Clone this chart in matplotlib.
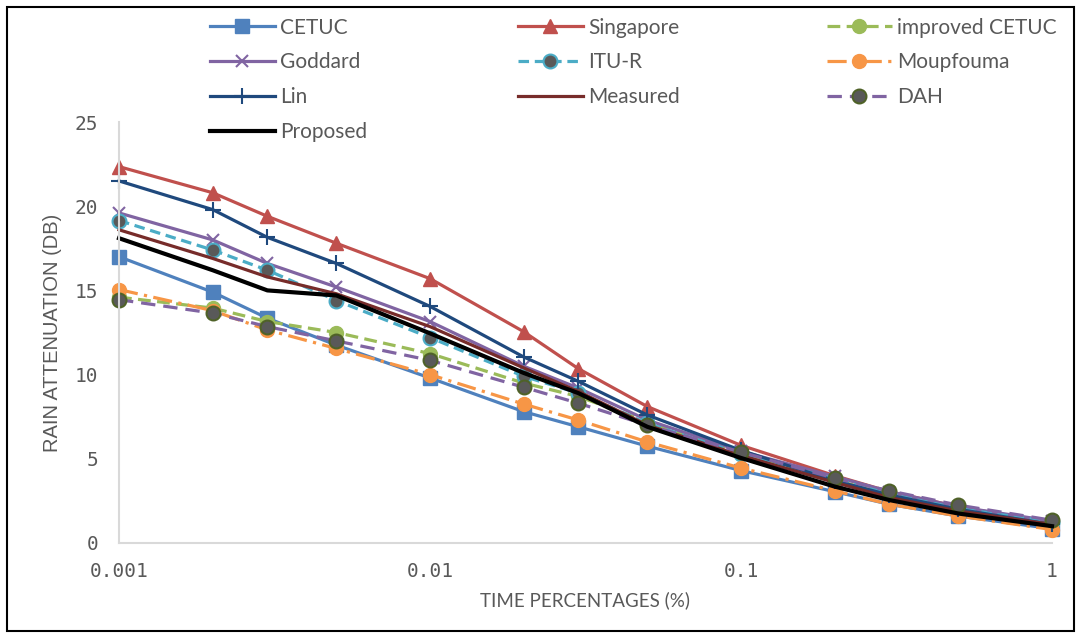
import matplotlib
matplotlib.use('Agg')
import matplotlib.pyplot as plt
from matplotlib.lines import Line2D
from matplotlib.patches import Rectangle
from matplotlib.ticker import NullLocator
from matplotlib.font_manager import FontProperties

# ---------------- data ----------------
time_pct = [0.001, 0.002, 0.003, 0.005, 0.01, 0.02, 0.03, 0.05, 0.1, 0.2, 0.3, 0.5, 1]
x_ticks = [0.001, 0.01, 0.1, 1]
x_tick_labels = ["0.001", "0.01", "0.1", "1"]
y_ticks = [0, 5, 10, 15, 20, 25]

cetuc = [17.0, 14.9, 13.35, 11.75, 9.8, 7.8, 6.9, 5.75, 4.3, 3.05, 2.3, 1.6, 0.85]
singapore = [22.35, 20.8, 19.4, 17.8, 15.7, 12.55, 10.35, 8.1, 5.8, 4.0, 3.05, 2.15, 1.2]
improved_cetuc = [14.6, 13.95, 13.15, 12.5, 11.25, 9.5, 8.7, 7.2, 5.3, 3.75, 2.85, 2.0, 1.2]
goddard = [19.6, 18.0, 16.6, 15.2, 13.15, 10.5, 9.2, 7.3, 5.45, 3.95, 3.05, 2.15, 1.3]
itu_r = [19.15, 17.4, 16.2, 14.4, 12.2, 9.9, 8.9, 7.1, 5.3, 3.8, 2.9, 2.05, 1.25]
moupfouma = [15.05, 13.8, 12.65, 11.55, 10.0, 8.25, 7.3, 6.0, 4.45, 3.1, 2.3, 1.6, 0.8]
lin = [21.5, 19.8, 18.15, 16.6, 14.05, 11.05, 9.6, 7.6, 5.5, 3.7, 2.85, 2.0, 1.1]
measured = [18.6, 16.9, 15.8, 14.8, 12.85, 10.4, 9.0, 7.0, 5.2, 3.6, 2.7, 1.9, 1.1]
dah = [14.45, 13.65, 12.85, 12.0, 10.85, 9.25, 8.3, 7.0, 5.4, 3.85, 3.1, 2.25, 1.35]
proposed = [18.1, 16.2, 15.0, 14.7, 12.45, 10.1, 8.9, 6.9, 5.05, 3.35, 2.55, 1.75, 1.0]

labels = ["CETUC", "Singapore", "improved CETUC", "Goddard", "ITU-R",
          "Moupfouma", "Lin", "Measured", "DAH", "Proposed"]
values = [cetuc, singapore, improved_cetuc, goddard, itu_r,
          moupfouma, lin, measured, dah, proposed]

# ---------------- styles ----------------
LW = 2.3
MS = 10
styles = [
    dict(color='#4F81BD', lw=LW, marker='s', ms=MS, mfc='#4F81BD', mec='#4F81BD'),
    dict(color='#C0504D', lw=LW, marker='^', ms=MS, mfc='#C0504D', mec='#C0504D'),
    dict(color='#9BBB59', lw=LW, dashes=(4, 2), marker='o', ms=MS, mfc='#9BBB59', mec='#9BBB59'),
    dict(color='#8064A2', lw=LW, marker='x', ms=9, mew=1.5, mec='#8064A2'),
    dict(color='#4BACC6', lw=LW, dashes=(3.3, 1.8), marker='o', ms=MS, mfc='#595959', mec='#4BACC6', mew=1.5),
    dict(color='#F79646', lw=LW, dashes=(6, 2, 1, 2), marker='o', ms=MS, mfc='#F79646', mec='#F79646'),
    dict(color='#1F497D', lw=LW, marker='+', ms=11, mew=1.5, mec='#1F497D'),
    dict(color='#772C2A', lw=LW),
    dict(color='#8064A2', lw=LW, dashes=(4.5, 2.5), marker='o', ms=MS, mfc='#595959', mec='#4F6228', mew=1.5),
    dict(color='#000000', lw=3.0),
]

fig = plt.figure(figsize=(10.81, 6.38), dpi=100)
W, H = 1081, 638
ax = fig.add_axes([119 / W, 1 - 543 / H, 933 / W, 421 / H])

for vals, lab, st in zip(values, labels, styles):
    ax.plot(time_pct, vals, label=lab, clip_on=False, **st)

ax.set_xscale('log')
ax.set_xlim(0.001, 1)
ax.set_ylim(0, 25)
ax.set_xticks(x_ticks)
ax.set_xticklabels(x_tick_labels)
ax.xaxis.set_minor_locator(NullLocator())
ax.set_yticks(y_ticks)

tick_font = FontProperties(family='DejaVu Sans Mono', size=14)
for t in ax.get_xticklabels() + ax.get_yticklabels():
    t.set_fontproperties(tick_font)
    t.set_color('#595959')
ax.tick_params(axis='both', length=0)
ax.tick_params(axis='x', pad=14)
ax.tick_params(axis='y', pad=15)

for s in ['top', 'right']:
    ax.spines[s].set_visible(False)
for s in ['left', 'bottom']:
    ax.spines[s].set_color('#D9D9D9')
    ax.spines[s].set_linewidth(1.5)

ax.set_xlabel('TIME PERCENTAGES (%)', fontfamily='Lato', fontsize=13.5, color='#595959')
ax.xaxis.set_label_coords((585 - 119) / 933, (543 - 600) / 421)
ax.xaxis.label.set_va('center')
ax.set_ylabel('RAIN ATTENUATION (DB)', fontfamily='Liberation Sans', fontsize=14.5, color='#595959')
ax.yaxis.set_label_coords((53 - 119) / 933, (543 - 333) / 421)
ax.yaxis.label.set_va('center')

# ---------------- legend (3 columns, row-major order) ----------------
handles = [Line2D([], [], **st) for st in styles]
col_x = [210, 518, 827]
leg_prop = FontProperties(family='Lato', size=15)
for c in range(3):
    idx = list(range(c, len(labels), 3))
    fig.legend([handles[i] for i in idx], [labels[i] for i in idx],
               loc='upper left', bbox_to_anchor=(col_x[c] / W, 1 - 17.5 / H),
               bbox_transform=fig.transFigure, frameon=False,
               borderpad=0, borderaxespad=0, handlelength=3.1,
               handletextpad=0.25, labelspacing=0.715, numpoints=1,
               prop=leg_prop, labelcolor='#595959')

# figure border
fig.patches.append(Rectangle((7 / W, 7 / H), (1074 - 7) / W, (631 - 7) / H,
                             transform=fig.transFigure, fill=False,
                             ec='black', lw=1.5))

fig.savefig('out.png', dpi=100)
